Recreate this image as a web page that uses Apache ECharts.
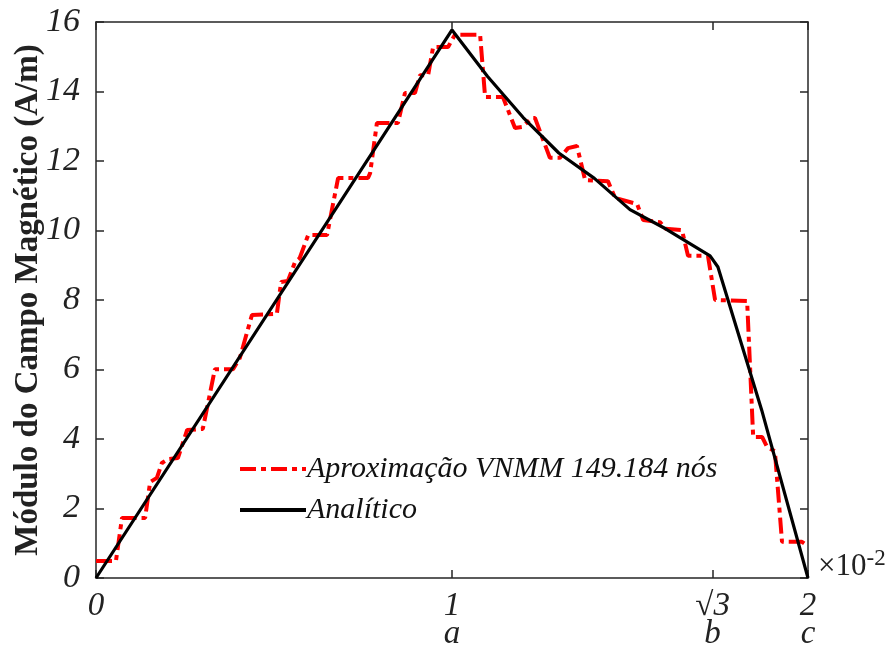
<!DOCTYPE html>
<html>
<head>
<meta charset="utf-8">
<script src="https://cdn.jsdelivr.net/npm/echarts@6/dist/echarts.min.js"></script>
<style>
html,body{margin:0;padding:0;background:#fff;}
#chart{width:891px;height:646px;}
</style>
</head>
<body>
<div id="chart"></div>
<script>
// ---- data ----
const redX = [0,0.056,0.073,0.138,0.152,0.171,0.185,0.202,0.230,0.256,0.300,0.334,0.385,0.404,0.438,0.508,0.520,0.539,0.559,0.572,0.596,0.649,0.680,0.764,0.770,0.789,0.848,0.868,0.896,0.910,0.933,0.947,0.989,1.008,1.079,1.093,1.143,1.177,1.197,1.225,1.233,1.275,1.303,1.326,1.351,1.374,1.438,1.458,1.520,1.537,1.584,1.600,1.646,1.663,1.719,1.739,1.829,1.846,1.871,1.885,1.907,1.927,1.983,2.0];
const redY = [0.49,0.49,1.73,1.73,2.76,2.88,3.31,3.42,3.45,4.26,4.29,6.01,6.01,6.33,7.57,7.60,8.52,8.55,9.09,9.2,9.87,9.87,11.51,11.51,11.65,13.09,13.09,13.96,13.96,14.47,14.47,15.28,15.28,15.63,15.63,13.84,13.84,12.95,12.98,13.24,13.24,12.09,12.09,12.37,12.43,11.45,11.42,10.94,10.76,10.3,10.24,10.05,10.01,9.27,9.27,8.0,7.97,4.06,4.06,3.77,3.65,1.04,1.04,0.92];
const blackX = [0,1,1.1,1.2,1.3,1.4,1.5,1.6,1.725,1.747,1.87,2];
const blackY = [0,15.77,14.43,13.25,12.23,11.5,10.6,10.05,9.27,8.95,4.83,0];
const xTickValues = [0,1,Math.sqrt(3),2];
const xTickLabels = ['0','1','√3','2'];
const xTickLetters = ['','a','b','c'];
const seriesNames = ['Aproximação VNMM 149.184 nós','Analítico'];
const yAxisName = 'Módulo do Campo Magnético (A/m)';

const font = '"Liberation Serif", "DejaVu Serif", serif';
const axisColor = '#262626';
const zip = (xs, ys) => xs.map((x,i)=>[x, ys[i]]);

function xLabel(v){
  for (let i=0;i<xTickValues.length;i++){
    if (Math.abs(v-xTickValues[i])<1e-6){
      return xTickLetters[i] ? xTickLabels[i]+'\n'+xTickLetters[i] : xTickLabels[i];
    }
  }
  return '';
}

const chart = echarts.init(document.getElementById('chart'));
chart.setOption({
  animation:false,
  backgroundColor:'#fff',
  grid:{left:96,right:83,top:22,bottom:68,containLabel:false,outerBoundsMode:'none'},
  legend:{
    orient:'vertical',left:233,top:449,
    itemWidth:66,itemHeight:14,itemGap:11,
    data:seriesNames,
    itemStyle:{opacity:0},
    lineStyle:{width:4},
    textStyle:{fontFamily:font,fontStyle:'italic',fontSize:30,color:'#111',padding:[0,0,0,-4]}
  },
  xAxis:[{
    type:'value',min:0,max:2,position:'bottom',
    axisLine:{show:true,onZero:false,lineStyle:{color:axisColor,width:1.5}},
    axisTick:{show:true,inside:true,length:8,customValues:xTickValues,lineStyle:{color:axisColor,width:1.5}},
    axisLabel:{customValues:xTickValues,formatter:xLabel,fontFamily:font,fontStyle:'italic',fontSize:33,color:'#222',lineHeight:28,margin:14},
    splitLine:{show:false}
  },{
    type:'value',min:0,max:2,position:'top',
    axisLine:{show:true,onZero:false,lineStyle:{color:axisColor,width:1.5}},
    axisTick:{show:true,inside:true,length:8,customValues:xTickValues,lineStyle:{color:axisColor,width:1.5}},
    axisLabel:{show:false},
    splitLine:{show:false}
  }],
  yAxis:[{
    type:'value',min:0,max:16,interval:2,position:'left',
    name:yAxisName,nameLocation:'middle',nameGap:51,nameMoveOverlap:false,
    nameTextStyle:{fontFamily:font,fontWeight:'bold',fontSize:33,color:'#222'},
    axisLine:{show:true,onZero:false,lineStyle:{color:axisColor,width:1.5}},
    axisTick:{show:true,inside:true,length:8,lineStyle:{color:axisColor,width:1.5}},
    axisLabel:{fontFamily:font,fontStyle:'italic',fontSize:34,color:'#222',margin:16},
    splitLine:{show:false}
  },{
    type:'value',min:0,max:16,interval:2,position:'right',
    axisLine:{show:true,onZero:false,lineStyle:{color:axisColor,width:1.5}},
    axisTick:{show:true,inside:true,length:8,lineStyle:{color:axisColor,width:1.5}},
    axisLabel:{show:false},
    splitLine:{show:false}
  }],
  series:[{
    name:seriesNames[0],type:'line',data:zip(redX,redY),
    symbol:'none',clip:false,z:2,
    lineStyle:{color:'#ff0000',width:4,type:[16,5,5,5]},
    itemStyle:{color:'#ff0000'}
  },{
    name:seriesNames[1],type:'line',data:zip(blackX,blackY),
    symbol:'none',clip:false,z:3,
    lineStyle:{color:'#000',width:3.2,type:'solid'},
    itemStyle:{color:'#000'}
  }],
  graphic:[{
    type:'text',left:818,top:547,
    style:{
      text:'×10{s|-2}',
      font:'31px "Liberation Serif"',
      fill:'#222',
      rich:{s:{fontFamily:'Liberation Serif',fontSize:23,verticalAlign:'top',padding:[0,0,16,0],fill:'#222'}}
    }
  }]
});
</script>
</body>
</html>
